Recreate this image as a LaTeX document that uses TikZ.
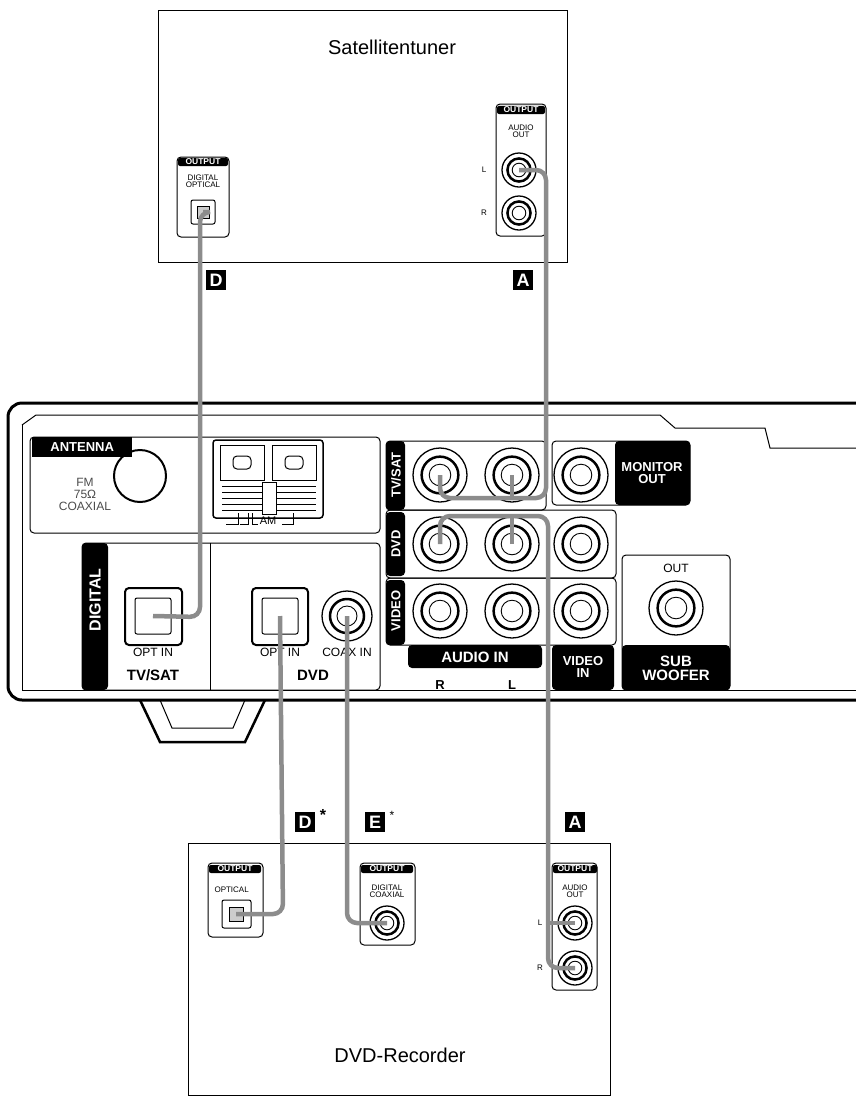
\documentclass[tikz,border=0pt]{standalone}
\usepackage{fontspec}
\setmainfont{Liberation Sans}
\begin{document}
\begin{tikzpicture}[x=1pt,y=-1pt,
  panel/.style={draw,line width=1pt,rounded corners=4pt},
  blk/.style={fill=black,text=white,font=\bfseries\fontsize{13}{13}\selectfont,inner sep=1pt},
  hdr/.style={fill=black,text=white,font=\bfseries\fontsize{8.5}{8.5}\selectfont,inner sep=1pt,rounded corners=2pt},
  tiny/.style={font=\fontsize{8}{8}\selectfont,align=center},
  small/.style={font=\fontsize{12}{12}\selectfont,align=center},
  tag/.style={fill=black,text=white,font=\bfseries\fontsize{18}{18}\selectfont,minimum size=20pt,inner sep=0pt},
  cable/.style={draw=black!45,line width=4.5pt,rounded corners=10pt},
  jack/.style={circle,draw,line width=1.3pt,minimum size=#1,inner sep=0pt},
  jack/.default=54pt]
\useasboundingbox (0,0) rectangle (856,1109);
\newcommand\rcain[2]{\draw[line width=2.5pt] (#1) circle (#2*0.68); \draw[line width=0.9pt] (#1) circle (#2*0.4);}
% ---------------- Satellite tuner
\draw[line width=1pt] (158,10) rectangle (567,262);
\node[font=\fontsize{20}{20}\selectfont] (sattitle) at (392,47) {Satellitentuner};
\draw[panel] (177,157) rectangle (229,237);
\node[hdr,minimum width=50pt] (soh1) at (203,162) {OUTPUT};
\node[tiny] (sol1) at (203,181) {DIGITAL\\[-1pt]OPTICAL};
\draw[line width=1pt,rounded corners=2pt] (191,200) rectangle (215,224);
\node[draw,minimum size=12pt,inner sep=0pt,fill=black!20] (satopt) at (203,212) {};
\draw[panel] (496,104) rectangle (546,236);
\node[hdr,minimum width=48pt] (soh2) at (521,110) {OUTPUT};
\node[tiny] (sol2) at (521,131) {AUDIO\\[-1pt]OUT};
\node[jack=34pt] (satL) at (519,170) {}; \rcain{satL}{17pt}
\node[jack=34pt] (satR) at (519,213) {}; \rcain{satR}{17pt}
\node[tiny] at (484,170) {L};
\node[tiny] at (484,213) {R};
\node[tag] (tagD) at (216,280) {D};
\node[tag] (tagA) at (523,280) {A};
% ---------------- Receiver outline
\draw[line width=3pt,rounded corners=14pt] (856,403) -- (8,403) -- (8,700) -- (856,700);
\draw[line width=1pt] (22,425) -- (22,690) -- (856,690);
\draw[line width=1pt] (22,425) -- (36,415) -- (660,415) -- (675,428) -- (765,428) -- (770,448) -- (856,448);
\draw[line width=2.5pt] (140,700) -- (160,742) -- (245,742) -- (265,700);
\draw[line width=1pt] (160,700) -- (172,728) -- (233,728) -- (245,700);
% Antenna panel
\draw[panel] (30,437) rectangle (380,533);
\node[blk,anchor=north west,minimum width=100pt,minimum height=20pt] (ant) at (32,437) {ANTENNA};
\node[circle,draw,line width=2pt,minimum size=52pt] (fm) at (140,476) {};
\node[font=\fontsize{12}{12}\selectfont,align=center,text=black!70] (fmtxt) at (85,494) {FM\\75Ω\\COAXIAL};
\draw[line width=1.5pt,rounded corners=3pt] (213,440) rectangle (323,518);
\draw[line width=1pt] (220,445) rectangle (264,480) (272,445) rectangle (316,480);
\draw[line width=1pt,rounded corners=4pt] (233,456) rectangle (251,469) (285,456) rectangle (303,469);
\foreach \yy in {486,492,498,504,510} {\draw (222,\yy) -- (262,\yy) (276,\yy) -- (316,\yy);}
\draw[line width=1pt] (262,482) rectangle (276,514);
\node[font=\fontsize{11}{11}\selectfont] (am) at (268,521) {AM};
\draw (238,513) -- (238,524) -- (226,524) (248,513) -- (248,524) -- (240,524) (252,513)--(252,524)--(258,524) (293,513)--(293,524)--(282,524);
% Digital panel
\draw[panel] (82,543) rectangle (380,690);
\draw[line width=1pt] (210,543) -- (210,690);
\path[fill=black,rounded corners=4pt] (82,543) rectangle (108,690);
\node[rotate=90,text=white,font=\bfseries\fontsize{16}{16}\selectfont] (dig) at (95,600) {DIGITAL};
\draw[line width=2pt,rounded corners=4pt] (125,588) rectangle (182,645);
\node[draw,line width=1pt,rounded corners=2pt,minimum size=36pt] (tvopt) at (153,616) {};
\node[small] (opt1) at (153,652) {OPT IN};
\node[font=\bfseries\fontsize{15}{15}\selectfont] (tvsatl) at (153,675) {TV/SAT};
\draw[line width=2pt,rounded corners=4pt] (252,588) rectangle (308,645);
\node[draw,line width=1pt,rounded corners=2pt,minimum size=36pt] (dvdopt) at (280,616) {};
\node[small] (opt2) at (280,652) {OPT IN};
\node[jack=50pt] (coax) at (347,616) {}; \rcain{coax}{25pt}
\node[small] (coaxl) at (347,652) {COAX IN};
\node[font=\bfseries\fontsize{15}{15}\selectfont] (dvdl) at (313,675) {DVD};
% Audio grid
\draw[panel] (386,441) rectangle (546,510);
\draw[panel] (386,510) rectangle (616,578);
\draw[panel] (386,578) rectangle (616,645);
\path[fill=black,rounded corners=4pt] (386,441) rectangle (405,510) (386,512) rectangle (405,576) (386,580) rectangle (405,645);
\node[rotate=90,text=white,font=\bfseries\fontsize{13}{13}\selectfont] at (396,475) {TV/SAT};
\node[rotate=90,text=white,font=\bfseries\fontsize{13}{13}\selectfont] at (396,544) {DVD};
\node[rotate=90,text=white,font=\bfseries\fontsize{13}{13}\selectfont] at (396,611) {VIDEO};
\draw[panel] (552,441) rectangle (690,505);
\path[fill=black,rounded corners=4pt] (615,441) rectangle (690,505);
\node[text=white,font=\bfseries\fontsize{13}{12}\selectfont,align=center] (mon) at (652,473) {MONITOR\\OUT};
\foreach \n/\x/\y in {tvR/440/475,tvL/512/475,monj/581/475,dvR/440/544,dvL/512/544,dvV/581/544,viR/440/611,viL/512/611,viV/581/611}
  {\node[jack] (\n) at (\x,\y) {}; \rcain{\n}{27pt}}
\path[fill=black,rounded corners=4pt] (408,645) rectangle (542,668);
\node[text=white,font=\bfseries\fontsize{15}{15}\selectfont] (audin) at (475,657) {AUDIO IN};
\node[font=\bfseries\fontsize{13}{13}\selectfont] at (440,685) {R};
\node[font=\bfseries\fontsize{13}{13}\selectfont] at (512,685) {L};
\path[fill=black,rounded corners=4pt] (552,645) rectangle (614,690);
\node[text=white,font=\bfseries\fontsize{13}{12}\selectfont,align=center] (vidin) at (583,667) {VIDEO\\IN};
\draw[panel] (622,555) rectangle (730,690);
\path[fill=black,rounded corners=4pt] (622,645) rectangle (730,690);
\node[small] (outl) at (676,568) {OUT};
\node[jack] (sub) at (676,608) {}; \rcain{sub}{27pt}
\node[text=white,font=\bfseries\fontsize{15}{14}\selectfont,align=center] (subl) at (676,668) {SUB\\WOOFER};
% ---------------- DVD recorder
\draw[line width=1pt] (188,843) rectangle (610,1095);
\node[font=\fontsize{20}{20}\selectfont] (dvdtitle) at (400,1055) {DVD-Recorder};
\draw[panel] (208,863) rectangle (263,937);
\node[hdr,minimum width=52pt] at (235,869) {OUTPUT};
\node[tiny,anchor=west] at (211,890) {OPTICAL};
\draw[line width=1pt,rounded corners=2pt] (222,900) rectangle (251,928);
\node[draw,minimum size=14pt,inner sep=0pt,fill=black!20] (recopt) at (236,914) {};
\draw[panel] (360,863) rectangle (415,945);
\node[hdr,minimum width=52pt] at (387,869) {OUTPUT};
\node[tiny] at (387,891) {DIGITAL\\[-1pt]COAXIAL};
\node[jack=34pt] (reccoax) at (387,923) {}; \rcain{reccoax}{17pt}
\draw[panel] (552,863) rectangle (597,990);
\node[hdr,minimum width=44pt] at (575,869) {OUTPUT};
\node[tiny] at (575,891) {AUDIO\\[-1pt]OUT};
\node[jack=34pt] (recL) at (575,923) {}; \rcain{recL}{17pt}
\node[jack=34pt] (recR) at (575,968) {}; \rcain{recR}{17pt}
\node[tiny] at (540,923) {L};
\node[tiny] at (540,968) {R};
\node[tag] (tagDs) at (305,822) {D};
\node[font=\bfseries\fontsize{16}{16}\selectfont] at (323,815) {*};
\node[tag] (tagE) at (375,822) {E};
\node[font=\fontsize{12}{12}\selectfont] at (392,815) {*};
\node[tag] (tagA2) at (575,822) {A};
% ---------------- Cables
\draw[cable] (satopt.center) -- (200,212) -- (200,617) -- (tvopt.center);
\draw[cable] (satL.center) -- (546,170) -- (546,498) -- (tvR.center |- 0,498) -- (tvR.center);
\draw[cable,rounded corners=0pt] (tvL.center) -- (tvL.center |- 0,498);
\draw[cable] (recL.center) -- (548,923);
\draw[cable] (recR.center) -- (548,968) -- (548,516) -- (dvR.center |- 0,516) -- (dvR.center);
\draw[cable,rounded corners=0pt] (dvL.center) -- (dvL.center |- 0,516);
\draw[cable] (recopt.center) -- (283,914) -- (dvdopt.center);
\draw[cable] (reccoax.center) -- (347,923) -- (coax.center);
\end{tikzpicture}
\end{document}
